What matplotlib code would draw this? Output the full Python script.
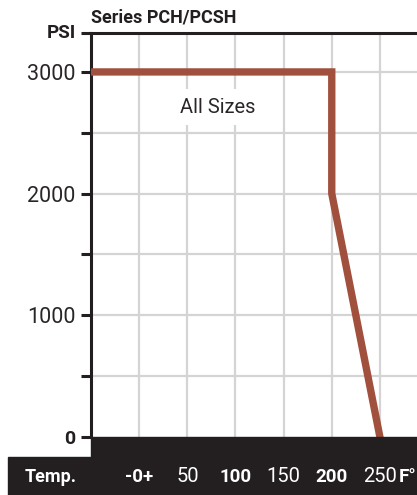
import numpy as np
import matplotlib
matplotlib.use('Agg')
import matplotlib.pyplot as plt
from matplotlib.patches import Rectangle

# rating curve (temp F, pressure psi)
temp = [-50, 200, 200, 250]
psi = [3000, 3000, 2000, 0]

x_ticks = [0, 50, 100, 150, 200, 250]
x_labels = ['-0+', '50', '100', '150', '200', '250']
x_bold = [True, False, True, False, True, False]
y_ticks = [0, 1000, 2000, 3000]
y_labels = ['0', '1000', '2000', '3000']
y_bold = [True, False, False, False]

line_col = '#a0503c'
band_col = '#231f20'
grid_col = '#d4d4d4'
font = 'Roboto'

W, H = 417, 495
fig = plt.figure(figsize=(W / 100, H / 100), dpi=100)
ax = fig.add_axes([91 / W, (H - 437) / H, (W - 91) / W, (437 - 33) / H])

ax.set_xlim(-50, 288.5)
ax.set_ylim(0, 3320)

# grid
for v in x_ticks:
    ax.axvline(v, color=grid_col, lw=1.6, zorder=1)
for v in np.arange(500, 3001, 500):
    ax.axhline(v, color=grid_col, lw=1.6, zorder=1)

ax.plot(temp, psi, color=line_col, lw=5.3, solid_joinstyle='miter', zorder=3)

ax.text(82, 2710, 'All Sizes', ha='center', va='center', fontsize=14.5,
        family=font, color='#2a2627', zorder=2,
        bbox=dict(facecolor='white', edgecolor='none', pad=6))

for s in ['right', 'bottom']:
    ax.spines[s].set_visible(False)
ax.spines['left'].set_linewidth(2.2)
ax.spines['top'].set_linewidth(2.2)
ax.spines['left'].set_color(band_col)
ax.spines['top'].set_color(band_col)

ax.set_yticks(y_ticks + [500, 1500, 2500, 3320])
ax.set_yticklabels(y_labels + ['', '', '', ''])
ax.tick_params(axis='y', length=7, width=2.2, color=band_col, pad=4)
for lab, b in zip(ax.get_yticklabels(), y_bold):
    lab.set_family(font)
    if b:
        lab.set_fontweight('bold')
        lab.set_fontsize(14)
        lab.set_color(band_col)
    else:
        lab.set_fontsize(15.5)
        lab.set_color('#2a2627')

ax.set_xticks([])

# black band under the chart
fig.patches.append(Rectangle((91 / W, 0), 1, (H - 437) / H, transform=fig.transFigure,
                             color=band_col, zorder=0))
fig.patches.append(Rectangle((8 / W, 0), 1, (H - 457) / H, transform=fig.transFigure,
                             color=band_col, zorder=0))

# white tick marks inside the band
for v in x_ticks:
    ax.plot([v, v], [-0.0099, -0.0396], color='white', lw=1.8,
            transform=ax.get_xaxis_transform(), clip_on=False)

ly = (H - 477) / H
for v, t, b in zip(x_ticks, x_labels, x_bold):
    xf = (91 + (v + 50) * 48.2 / 50) / W
    if b:
        fig.text(xf, ly, t, ha='center', va='center', color='white', fontsize=13.5,
                 family=font, fontweight='bold')
    else:
        fig.text(xf, ly, t, ha='center', va='center', color='white', fontsize=14.5,
                 family=font)
fig.text(51 / W, ly, 'Temp.', ha='center', va='center', color='white', fontsize=13,
         family=font, fontweight='bold')
fig.text(399 / W, ly, 'F°', ha='left', va='center', color='white', fontsize=13.5,
         family=font, fontweight='bold')

fig.text(91 / W, (H - 18) / H, 'Series PCH/PCSH', ha='left', va='center', fontsize=13,
         family=font, fontweight='bold', color=band_col)
fig.text(76 / W, (H - 33) / H, 'PSI', ha='right', va='center', fontsize=13.5,
         family=font, fontweight='bold', color=band_col)

fig.savefig('out.png', dpi=100)
